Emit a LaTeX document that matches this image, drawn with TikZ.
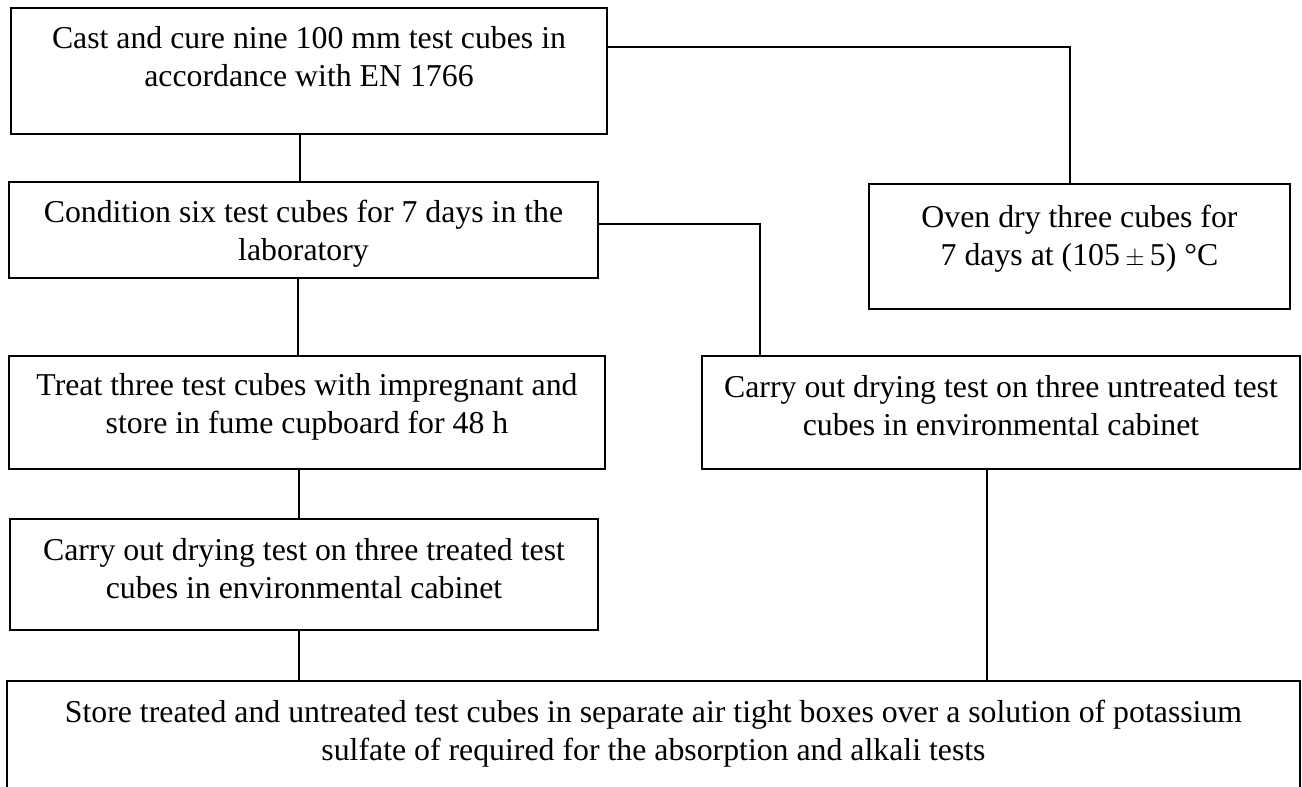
\documentclass[tikz,border=0pt]{standalone}
\usepackage{fontspec}
\setmainfont{Liberation Serif}
\newcommand\bxtext[4]{\parbox[c][#2pt][t]{#1pt}{\centering\vspace*{#3pt}\rule{0pt}{23pt}#4\par}}
\begin{document}
\begin{tikzpicture}[x=1pt,y=-1pt,
  box/.style={draw, line width=1.5pt, inner sep=0pt, rectangle,
    font=\fontsize{31.8}{37.8}\selectfont},
  link/.style={draw, line width=1.2pt}]
\useasboundingbox (0,0) rectangle (1302,787);
\clip (0,0) rectangle (1302,787);
% boxes
\node[box] (cast) at (309,71)
  {\bxtext{596}{126}{17.8}{Cast and cure nine 100 mm test cubes in\\accordance with EN 1766}};
\node[box] (cond) at (303.5,230)
  {\bxtext{589}{96}{17.8}{Condition six test cubes for 7 days in the\\laboratory}};
\node[box] (oven) at (1079.5,246.5)
  {\bxtext{421}{125}{20.8}{Oven dry three cubes for\\7 days at (105\,$\pm$\,5) \textdegree C}};
\node[box] (treat) at (307,412.5)
  {\bxtext{596}{113}{16.8}{Treat three test cubes with impregnant and\\store in fume cupboard for 48 h}};
\node[box] (untr) at (1001,412.5)
  {\bxtext{598}{113}{18.8}{Carry out drying test on three untreated test\\cubes in environmental cabinet}};
\node[box] (tdry) at (304,574.5)
  {\bxtext{588}{111}{18.8}{Carry out drying test on three treated test\\cubes in environmental cabinet}};
\node[box] (store) at (653.5,746)
  {\bxtext{1293}{130}{18.8}{Store treated and untreated test cubes in separate air tight boxes over a solution of potassium\\sulfate of required for the absorption and alkali tests}};
% junction coordinates
\coordinate (j1) at (1070,47);
\coordinate (j2) at (760,224);
\coordinate (c1) at (300,0);
\coordinate (c2) at (298,0);
\coordinate (c3) at (299,0);
\coordinate (c4) at (987,0);
% connectors
\draw[link] (cast.east |- j1) -- (j1) -- (j1 |- oven.north);
\draw[link] (cast.south -| c1) -- (cond.north -| c1);
\draw[link] (cond.east |- j2) -- (j2) -- (j2 |- untr.north);
\draw[link] (cond.south -| c2) -- (treat.north -| c2);
\draw[link] (treat.south -| c3) -- (tdry.north -| c3);
\draw[link] (tdry.south -| c3) -- (store.north -| c3);
\draw[link] (untr.south -| c4) -- (store.north -| c4);
\end{tikzpicture}
\end{document}
